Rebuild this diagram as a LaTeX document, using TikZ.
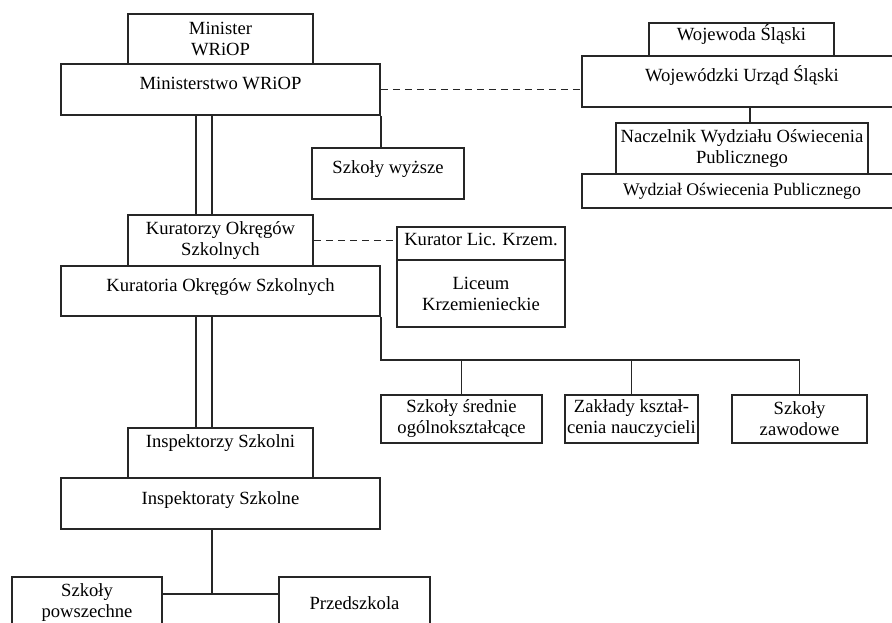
\documentclass[tikz,border=0pt]{standalone}
\usepackage{fontspec}
\setmainfont{Liberation Serif}

\begin{document}
\begin{tikzpicture}[x=1pt,y=-1pt,
  box/.style={draw=black!85,line width=1.7pt,inner sep=0pt,align=center,
    font=\fontsize{18.6}{21}\selectfont},
  oneline/.style={text height=13pt,text depth=#1},
  oneline/.default=12pt,
  link/.style={draw=black!85,line width=1.7pt},
  dashedlink/.style={dash pattern=on 7pt off 5pt}]
\useasboundingbox (0,0) rectangle (892,623);
\clip (0,0) rectangle (892,623);

\node[box,minimum width=185pt,minimum height=50pt] at (220.5,39) (mwm) {Minister\\WRiOP};
\node[box,oneline,minimum width=319pt,minimum height=51pt] at (220.5,89.5) (mw) {Ministerstwo WRiOP};
\node[box,oneline,minimum width=152pt,minimum height=51pt] at (388,173.5) (sw) {Szkoły wyższe};

\node[box,oneline=10pt,minimum width=185pt,minimum height=33pt] at (741.5,39.5) (ws) {Wojewoda Śląski};
\node[box,oneline,minimum width=320pt,minimum height=51pt] at (742,81.5) (wu) {Wojewódzki Urząd Śląski};
\node[box,minimum width=252pt,minimum height=51pt] at (742,148.5) (nw) {Naczelnik Wydziału Oświecenia\\Publicznego};
\node[box,font=\fontsize{17.7}{21}\selectfont,minimum width=320pt,minimum height=34pt] at (742,191) (wo) {Wydział Oświecenia Publicznego};

\node[box,minimum width=185pt,minimum height=51pt] at (220.5,240.5) (ko) {Kuratorzy Okręgów\\Szkolnych};
\node[box,oneline,minimum width=319pt,minimum height=50pt] at (220.5,291) (ka) {Kuratoria Okręgów Szkolnych};
\node[box,oneline=10pt,minimum width=168pt,minimum height=33pt] at (481,243.5) (kl) {Kurator Lic. Krzem.};
\node[box,minimum width=168pt,minimum height=67pt] at (481,293.5) (lk) {Liceum\\Krzemienieckie};

\node[box,minimum width=161pt,minimum height=48pt] at (461.5,419) (s1) {Szkoły średnie\\ogólnokształcące};
\node[box,minimum width=133pt,minimum height=48pt] at (631.5,419) (s2) {Zakłady kształ-\\cenia nauczycieli};
\node[box,minimum width=135pt,minimum height=48pt] at (799.5,419) (s3) {Szkoły\\zawodowe};

\node[box,oneline=24pt,minimum width=185pt,minimum height=50pt] at (220.5,453) (is) {Inspektorzy Szkolni};
\node[box,oneline,minimum width=319pt,minimum height=51pt] at (220.5,503.5) (it) {Inspektoraty Szkolne};
\node[box,minimum width=150pt,minimum height=52pt] at (87,603) (sp) {Szkoły\\powszechne};
\node[box,minimum width=151pt,minimum height=52pt] at (354.5,603) (pr) {Przedszkola};

% connections
\draw[link] (mw.south east) -- (mw.south east |- sw.north);
\draw[link,dashedlink] (mw.east) -- (mw.east -| wu.west);
\draw[link] ([xshift=8pt]wu.south) -- ([xshift=8pt]wu.south |- nw.north);
\foreach \d in {-24.5,-8.5} {
  \draw[link] ([xshift=\d pt]mw.south) -- ([xshift=\d pt]mw.south |- ko.north);
  \draw[link] ([xshift=\d pt]ka.south) -- ([xshift=\d pt]ka.south |- is.north);
}
\draw[link,dashedlink] (ko.east) -- (ko.east -| kl.west);
\draw[link] (ka.south east) |- ([yshift=34pt]s3.north) -- (s3.north);
\foreach \s in {s1,s2}
  \draw[link] (\s.north) -- ([yshift=34pt]\s.north);
\draw[link] ([xshift=-8.5pt]it.south) -- ([xshift=-8.5pt,yshift=9pt]it.south |- sp.east);
\draw[link] ([yshift=9pt]sp.east) -- ([yshift=9pt]pr.west);
\end{tikzpicture}
\end{document}
